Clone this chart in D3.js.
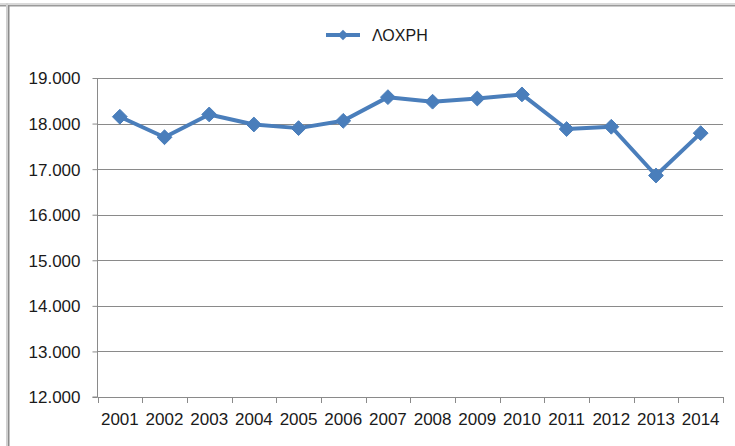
<!DOCTYPE html>
<html>
<head>
<meta charset="utf-8">
<script src="https://cdn.jsdelivr.net/npm/d3@7"></script>
<style>
body { margin: 0; background: #fff; }
svg text { font-family: "Liberation Sans", "DejaVu Sans", sans-serif; fill: #1a1a1a; }
</style>
</head>
<body>
<svg width="735" height="446"></svg>
<script>
var years = ["2001", "2002", "2003", "2004", "2005", "2006", "2007", "2008", "2009", "2010", "2011", "2012", "2013", "2014"];
var loxri = [18150, 17700, 18200, 17980, 17900, 18060, 18580, 18480, 18550, 18640, 17880, 17930, 16860, 17790];
var yTicks = [12000, 13000, 14000, 15000, 16000, 17000, 18000, 19000];
var seriesName = "ΛΟΧΡΗ";

var svg = d3.select("svg");
var color = "#4a7ebb";

// frame of the screenshot
svg.append("rect").attr("x", 0).attr("y", 3).attr("width", 735).attr("height", 2).attr("fill", "#d9d9d9");
svg.append("rect").attr("x", 0).attr("y", 5).attr("width", 735).attr("height", 1.5).attr("fill", "#9a9a9a");
svg.append("rect").attr("x", 6).attr("y", 3).attr("width", 2).attr("height", 443).attr("fill", "#d0d0d0");
svg.append("rect").attr("x", 8).attr("y", 5).attr("width", 1.5).attr("height", 441).attr("fill", "#8c8c8c");

var plotLeft = 97.5, plotRight = 723, plotTop = 78, plotBottom = 397;

var x = d3.scaleBand().domain(years).range([plotLeft, plotRight]);
var y = d3.scaleLinear().domain([12000, 19000]).range([plotBottom, plotTop]);

// gridlines
svg.append("g")
    .selectAll("line")
    .data(yTicks.slice(1))
    .enter()
    .append("line")
    .attr("x1", plotLeft).attr("x2", plotRight)
    .attr("y1", function(d) { return Math.round(y(d)) + 0.5; })
    .attr("y2", function(d) { return Math.round(y(d)) + 0.5; })
    .attr("stroke", "#8a8a8a");

// y axis
var yAxis = svg.append("g")
    .attr("transform", "translate(" + plotLeft + ",0)")
    .call(d3.axisLeft(y).tickValues(yTicks).tickSize(5).tickPadding(12)
        .tickFormat(function(d) { return d3.format(",")(d).replace(",", "."); }));
yAxis.selectAll("line, path").attr("stroke", "#8a8a8a");
yAxis.select(".domain").attr("d", "M-5," + plotBottom + "H0V" + plotTop);
yAxis.selectAll("text").style("font-size", "17px").attr("dy", "0.35em");

// x axis
var xAxis = svg.append("g")
    .attr("transform", "translate(0," + (Math.round(plotBottom) + 0.5) + ")")
    .call(d3.axisBottom(x).tickSize(0).tickPadding(15));
xAxis.select(".domain").attr("stroke", "#8a8a8a").attr("d", "M" + plotLeft + ",0H" + plotRight);
xAxis.selectAll("text").style("font-size", "17px");
svg.append("g")
    .selectAll("line")
    .data(years.concat(["end"]))
    .enter()
    .append("line")
    .attr("x1", function(d, i) { return Math.round(plotLeft + i * x.step()) + 0.5; })
    .attr("x2", function(d, i) { return Math.round(plotLeft + i * x.step()) + 0.5; })
    .attr("y1", plotBottom).attr("y2", plotBottom + 6)
    .attr("stroke", "#8a8a8a");

// line
var line = d3.line()
    .x(function(d, i) { return x(years[i]) + x.bandwidth() / 2; })
    .y(function(d) { return y(d); });
svg.append("path")
    .datum(loxri)
    .attr("d", line)
    .attr("fill", "none")
    .attr("stroke", color)
    .attr("stroke-width", 4)
    .attr("stroke-linejoin", "round");

var diamond = d3.symbol().type(d3.symbolDiamond2).size(140);
svg.append("g")
    .selectAll("path")
    .data(loxri)
    .enter()
    .append("path")
    .attr("d", diamond)
    .attr("transform", function(d, i) {
        return "translate(" + (x(years[i]) + x.bandwidth() / 2) + "," + y(d) + ")";
    })
    .attr("fill", color)
    .attr("stroke", color)
    .attr("stroke-width", 1);

// legend
var lg = svg.append("g").attr("transform", "translate(326,35)");
lg.append("line").attr("x1", 0).attr("x2", 34).attr("y1", 0).attr("y2", 0)
    .attr("stroke", color).attr("stroke-width", 4);
lg.append("path").attr("d", d3.symbol().type(d3.symbolDiamond2).size(70))
    .attr("transform", "translate(17,0)").attr("fill", color);
lg.append("text").attr("x", 46).attr("y", 0).attr("dy", "0.35em")
    .style("font-size", "16px").text(seriesName);
</script>
</body>
</html>
